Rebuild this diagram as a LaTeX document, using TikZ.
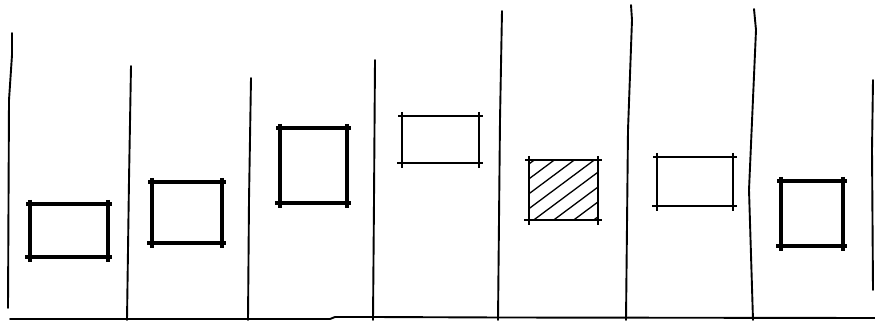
\documentclass[tikz,border=0pt]{standalone}
\newcommand\sketchbox[5]{%
  \draw[#1] (#2-4,#3) -- (#4+4,#3);
  \draw[#1] (#2-5,#5) -- (#4+4,#5);
  \draw[#1] (#2,#3-4) -- (#2,#5+5);
  \draw[#1] (#4,#3-4) -- (#4,#5+5);}
\begin{document}
\begin{tikzpicture}[x=1pt,y=-1pt,
  vline/.style={line width=1.9pt,line cap=round},
  thickbox/.style={line width=4.2pt},
  thinbox/.style={line width=1.6pt},
  medbox/.style={line width=2.4pt},
  hatchline/.style={line width=1.3pt}]
\useasboundingbox[fill=white] (0,0) rectangle (875,323);
% ground line
\draw[vline] (10,319) -- (330,319) -- (335,317) -- (372,317) -- (500,317.5) -- (875,318);
% vertical dividers
\draw[vline] (12,33) -- (12,55) -- (9,100) -- (8,308);
\draw[vline] (131,66) -- (129,180) -- (127,320);
\draw[vline] (251,78) -- (249,200) -- (248,320);
\draw[vline] (375,60) -- (374,200) -- (373,320);
\draw[vline] (502,11) -- (500,120) -- (498,320);
\draw[vline] (631,5) -- (632,20) -- (628,130) -- (626,320);
\draw[vline] (754,9) -- (756,30) -- (749,190) -- (753,320);
\draw[vline] (873,80) -- (872,150) -- (873,290);
% boxes
\sketchbox{thickbox}{30}{204}{108}{257}
\sketchbox{thickbox}{152}{182}{222}{243}
\sketchbox{thickbox}{280}{128}{347}{203}
\sketchbox{thinbox}{402}{116}{479}{163}
\sketchbox{medbox}{529}{160}{598}{220}
\sketchbox{thinbox}{657}{157}{733}{206}
\sketchbox{thickbox}{781}{181}{843}{246}
% hatching
\begin{scope}
  \clip (529,160) rectangle (598,220);
  \foreach \i in {447,467,...,600}
    \draw[hatchline] (\i,225) -- ++(90,-67);
\end{scope}
\end{tikzpicture}
\end{document}
